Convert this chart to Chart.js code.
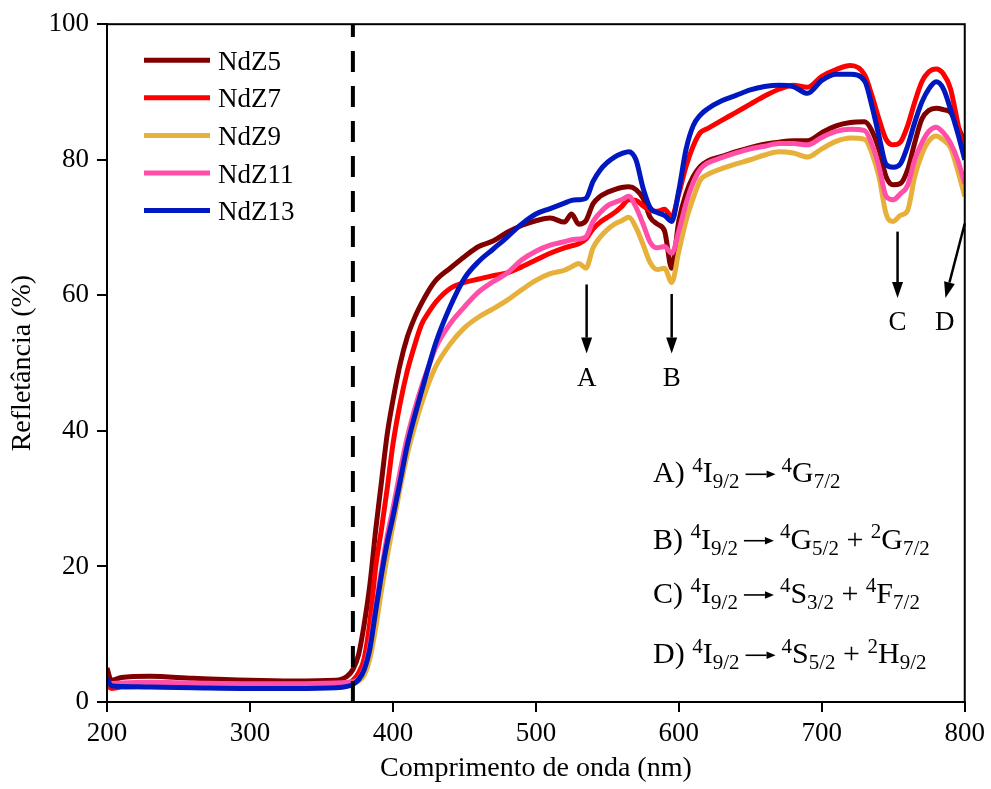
<!DOCTYPE html>
<html lang="pt">
<head>
    <meta charset="UTF-8">
    <title>Refletância NdZ</title>
    <script src="https://cdn.jsdelivr.net/npm/chart.js@4.4.1/dist/chart.umd.min.js"></script>
    <style>
        html, body { margin: 0; padding: 0; background: #fff; }
        #wrap { width: 991px; height: 789px; }
    </style>
</head>
<body>
    <div id="wrap">
        <canvas id="chart" width="991" height="789"></canvas>
    </div>

    <script>
        // wavelengths (nm)
        const wavelength = [200, 203, 210, 230, 260, 300, 330, 360,
            368, 372, 376, 380, 384, 388, 392, 396, 400,
            405, 410, 415, 420, 425, 430,
            440, 450, 460, 470, 480, 490, 500, 510, 520,
            525, 530, 535, 540, 545, 550, 555, 560, 565, 570, 575, 580, 585, 590, 595, 600, 605, 610, 615, 620,
            630, 640, 650, 660, 670, 680, 690, 700, 710, 720, 730,
            735, 740, 745, 750, 755, 760, 765, 770, 775, 780, 785, 790, 795, 800];

        const ndz5 = [5.0, 3.2, 3.6, 3.8, 3.5, 3.2, 3.1, 3.2,
            3.8, 4.8, 7.0, 11.6, 17.5, 25.5, 32.5, 39.5, 44.5,
            49.8, 53.8, 56.6, 58.8, 60.7, 62.2,
            64.0, 65.7, 67.2, 68.0, 69.3, 70.3, 71.0, 71.4, 70.8,
            72.0, 70.5, 71.0, 73.5, 74.6, 75.2, 75.6, 75.9, 76.0, 75.6, 74.3, 71.5, 70.5, 69.5, 64.0, 71.0, 75.0, 77.5, 79.0, 79.8,
            80.5, 81.2, 81.8, 82.3, 82.6, 82.8, 82.8, 84.0, 85.0, 85.5, 85.6,
            84.3, 81.5, 77.5, 76.3, 76.5, 78.5, 82.5, 86.0, 87.3, 87.6, 87.4, 87.0, 85.0, 82.5];

        const ndz7 = [2.8, 2.0, 2.2, 2.3, 2.2, 2.1, 2.1, 2.3,
            2.6, 3.2, 4.3, 6.5, 12.0, 20.0, 25.5, 31.5, 38.0,
            44.0, 48.8, 52.5, 55.7, 57.5, 59.0,
            61.0, 61.9, 62.4, 62.9, 63.3, 64.2, 65.2, 66.2, 67.0,
            67.3, 67.6, 68.3, 69.8, 70.8, 71.5, 72.2, 73.1, 74.1, 74.0, 73.2, 72.5, 72.4, 72.7, 71.6, 75.0, 79.0, 82.0, 84.0, 84.6,
            85.8, 87.0, 88.2, 89.4, 90.4, 91.0, 90.7, 92.3, 93.3, 93.9, 92.5,
            89.5, 86.0, 83.0, 82.2, 82.6, 85.0, 88.5, 91.5, 93.0, 93.4, 92.7, 90.5, 85.5, 80.5];

        const ndz9 = [3.0, 2.5, 2.6, 2.6, 2.5, 2.4, 2.4, 2.5,
            2.6, 2.8, 3.1, 4.0, 6.5, 11.0, 16.5, 21.5, 26.0,
            31.5, 36.5, 40.5, 44.0, 47.0, 49.5,
            52.8, 55.2, 56.8, 58.0, 59.3, 60.8, 62.2, 63.2, 63.7,
            64.2, 64.7, 64.0, 67.0, 68.6, 69.7, 70.5, 71.0, 71.5, 70.0, 67.5, 64.8, 63.8, 64.0, 61.9, 66.5, 71.0, 74.3, 77.0, 77.8,
            78.7, 79.4, 80.0, 80.7, 81.2, 81.0, 80.4, 81.6, 82.7, 83.2, 83.0,
            81.0, 77.5, 72.0, 70.9, 71.8, 72.5, 77.5, 80.8, 82.8, 83.5, 82.9, 81.8, 78.5, 74.6];

        const ndz11 = [3.2, 2.7, 2.8, 2.9, 2.8, 2.7, 2.7, 2.8,
            2.9, 3.0, 3.4, 5.0, 8.5, 14.0, 19.5, 24.5, 28.5,
            34.0, 39.0, 43.0, 46.5, 49.5, 52.3,
            55.8, 58.3, 60.5, 62.0, 63.3, 65.2, 66.5, 67.4, 67.9,
            68.2, 68.3, 68.6, 70.9, 72.2, 73.2, 73.7, 74.1, 74.6, 73.0, 70.5, 67.8, 67.0, 67.2, 66.2, 69.5, 73.5, 76.6, 78.6, 79.5,
            80.3, 81.0, 81.6, 82.0, 82.4, 82.4, 82.2, 83.3, 84.2, 84.5, 84.3,
            82.3, 79.0, 74.6, 74.1, 75.0, 76.2, 80.0, 82.5, 84.2, 84.8, 84.0, 82.5, 80.0, 76.5];

        const ndz13 = [3.5, 2.4, 2.3, 2.2, 2.1, 2.0, 2.0, 2.1,
            2.3, 2.6, 3.3, 4.8, 8.0, 13.5, 18.8, 23.5, 27.3,
            32.5, 37.8, 42.0, 45.8, 49.5, 53.0,
            58.3, 62.5, 65.0, 66.8, 68.6, 70.5, 72.0, 72.8, 73.6,
            74.0, 74.1, 74.3, 76.8, 78.5, 79.6, 80.4, 80.9, 81.2, 80.0, 75.8, 72.9, 72.2, 71.8, 70.9, 75.5, 81.5, 85.0, 86.6, 87.5,
            88.7, 89.5, 90.3, 90.8, 91.0, 90.8, 89.8, 91.7, 92.6, 92.6, 91.6,
            88.0, 83.5, 79.3, 78.9, 79.4, 82.0, 85.5, 88.5, 90.5, 91.5, 90.5, 87.5, 84.0, 80.0];

        const seriesNames = ['NdZ5', 'NdZ7', 'NdZ9', 'NdZ11', 'NdZ13'];
        const seriesValues = [ndz5, ndz7, ndz9, ndz11, ndz13];
        const seriesColors = ['#800000', '#ff0000', '#e6b03a', '#ff4fa8', '#0018c0'];

        const xTicks = [200, 300, 400, 500, 600, 700, 800];
        const yTicks = [0, 20, 40, 60, 80, 100];

        // dashed marker (nm)
        const edgeLine = 372;

        // arrows pointing at the Nd3+ absorption bands
        const arrowLabels = ['A', 'B', 'C', 'D'];
        const arrowFrom = [[535.5, 61.6], [595, 60.2], [753, 69.4], [800, 70.6]];
        const arrowTo = [[535.5, 51.4], [595, 51.4], [753, 59.6], [786.5, 59.6]];
        const arrowLabelAt = [[535.5, 47.6], [595, 47.6], [753, 56.0], [786.0, 56.0]];

        const transitions = [
            'A) ^{4}I_{9/2}\u2192^{4}G_{7/2}',
            'B) ^{4}I_{9/2}\u2192^{4}G_{5/2} + ^{2}G_{7/2}',
            'C) ^{4}I_{9/2}\u2192^{4}S_{3/2} + ^{4}F_{7/2}',
            'D) ^{4}I_{9/2}\u2192^{4}S_{5/2} + ^{2}H_{9/2}'
        ];
        const transitionX = 582.0;
        const transitionY = [32.4, 22.6, 14.6, 5.7];

        const FONT = "'Times New Roman', 'Liberation Serif', serif";

        function arrow(ctx, x0, y0, x1, y1, head, half) {
            const ang = Math.atan2(y1 - y0, x1 - x0);
            const bx = x1 - head * Math.cos(ang), by = y1 - head * Math.sin(ang);
            ctx.beginPath();
            ctx.moveTo(x0, y0);
            ctx.lineTo(bx, by);
            ctx.stroke();
            ctx.beginPath();
            ctx.moveTo(x1, y1);
            ctx.lineTo(bx + half * Math.sin(ang), by - half * Math.cos(ang));
            ctx.lineTo(bx - half * Math.sin(ang), by + half * Math.cos(ang));
            ctx.closePath();
            ctx.fill();
        }

        function drawRich(ctx, str, x, y, size) {
            const re = /\^\{([^}]*)\}|_\{([^}]*)\}|(\u2192)|([^^_\u2192]+)/g;
            let m;
            let cx = x;
            while ((m = re.exec(str)) !== null) {
                if (m[3] !== undefined) {
                    // long thin arrow like the original
                    const w = 30;
                    const ay = y - size * 0.27;
                    ctx.lineWidth = 1.6;
                    arrow(ctx, cx + 6, ay, cx + 6 + w, ay, 9, 3.8);
                    cx += w + 12;
                    continue;
                }
                let txt, fs, dy;
                if (m[1] !== undefined) { txt = m[1]; fs = size * 0.7; dy = -size * 0.36; }
                else if (m[2] !== undefined) { txt = m[2]; fs = size * 0.7; dy = size * 0.2; }
                else { txt = m[4]; fs = size; dy = 0; }
                ctx.font = fs + 'px ' + FONT;
                ctx.fillText(txt, cx, y + dy);
                cx += ctx.measureText(txt).width;
            }
        }

        const extras = {
            id: 'extras',
            afterDraw(chart) {
                const ctx = chart.ctx;
                const xs = chart.scales.x, ys = chart.scales.y;
                const area = chart.chartArea;
                ctx.save();
                ctx.fillStyle = '#000';
                ctx.strokeStyle = '#000';

                // frame
                ctx.lineWidth = 2;
                ctx.strokeRect(area.left, area.top, area.right - area.left, area.bottom - area.top);

                // arrows + letters
                ctx.lineWidth = 2.5;
                ctx.textAlign = 'center';
                ctx.textBaseline = 'middle';
                ctx.font = '27px ' + FONT;
                arrowLabels.forEach((lab, i) => {
                    arrow(ctx,
                        xs.getPixelForValue(arrowFrom[i][0]), ys.getPixelForValue(arrowFrom[i][1]),
                        xs.getPixelForValue(arrowTo[i][0]), ys.getPixelForValue(arrowTo[i][1]), 16, 5.5);
                    ctx.fillText(lab, xs.getPixelForValue(arrowLabelAt[i][0]), ys.getPixelForValue(arrowLabelAt[i][1]));
                });

                // transitions
                ctx.textAlign = 'left';
                ctx.textBaseline = 'alphabetic';
                transitions.forEach((t, i) => {
                    drawRich(ctx, t, xs.getPixelForValue(transitionX), ys.getPixelForValue(transitionY[i]), 30);
                });

                // legend
                ctx.font = '27px ' + FONT;
                seriesNames.forEach((name, i) => {
                    const y = area.top + 36 + i * 37.6;
                    ctx.strokeStyle = seriesColors[i];
                    ctx.lineWidth = 5;
                    ctx.beginPath();
                    ctx.moveTo(area.left + 37, y);
                    ctx.lineTo(area.left + 103, y);
                    ctx.stroke();
                    ctx.fillStyle = '#000';
                    ctx.fillText(name, area.left + 111, y + 9.5);
                });
                ctx.restore();
            }
        };

        const datasets = seriesNames.map((name, i) => ({
            label: name,
            data: wavelength.map((w, j) => ({ x: w, y: seriesValues[i][j] })),
            borderColor: seriesColors[i],
            borderWidth: 5,
            pointRadius: 0,
            cubicInterpolationMode: 'monotone',
            borderJoinStyle: 'round',
            order: seriesNames.length - i
        }));
        datasets.push({
            label: 'edge',
            data: [{ x: edgeLine, y: 0 }, { x: edgeLine, y: 100 }],
            borderColor: '#000',
            borderWidth: 4,
            borderDash: [21, 14],
            pointRadius: 0,
            order: 0
        });

        const tickFont = { family: FONT, size: 27 };
        const titleFont = { family: FONT, size: 28 };

        new Chart(document.getElementById('chart').getContext('2d'), {
            type: 'line',
            data: { datasets: datasets },
            options: {
                responsive: false,
                devicePixelRatio: 1,
                animation: false,
                layout: { padding: { top: 22, right: 26, left: 0, bottom: 0 } },
                plugins: { legend: { display: false }, tooltip: { enabled: false } },
                scales: {
                    x: {
                        type: 'linear',
                        min: 200, max: 800,
                        afterBuildTicks: s => { s.ticks = xTicks.map(v => ({ value: v })); },
                        afterFit: s => { s.height = 87; },
                        ticks: { font: tickFont, color: '#000', padding: 6, maxRotation: 0 },
                        grid: { drawOnChartArea: false, drawTicks: true, tickLength: 10, color: '#000', lineWidth: 2 },
                        border: { color: '#000', width: 2 },
                        title: { display: true, text: 'Comprimento de onda (nm)', font: titleFont, color: '#000', padding: { top: 0, bottom: 4 } }
                    },
                    y: {
                        min: 0, max: 100,
                        afterBuildTicks: s => { s.ticks = yTicks.map(v => ({ value: v })); },
                        afterFit: s => { s.width = 107; },
                        ticks: { font: tickFont, color: '#000', padding: 8 },
                        grid: { drawOnChartArea: false, drawTicks: true, tickLength: 10, color: '#000', lineWidth: 2 },
                        border: { color: '#000', width: 2 },
                        title: { display: true, text: 'Refletância (%)', font: titleFont, color: '#000', padding: { top: 6, bottom: 0 } }
                    }
                }
            },
            plugins: [extras]
        });
    </script>
</body>
</html>
